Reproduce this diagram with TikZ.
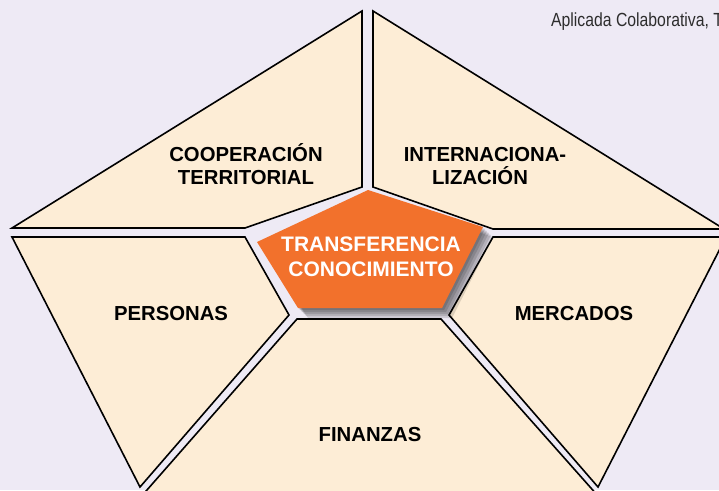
\documentclass[tikz,border=0pt]{standalone}
\usepackage{fontspec}
\setmainfont{Liberation Sans}
\definecolor{bgc}{RGB}{238,234,245}
\definecolor{piecefill}{RGB}{253,237,214}
\definecolor{orangec}{RGB}{242,113,44}
\definecolor{notegray}{RGB}{45,45,45}
\begin{document}
\begin{tikzpicture}[x=1pt,y=-1pt,
  piece/.style={draw=black, line width=1.6pt, fill=piecefill, line join=miter},
  lbl/.style={font=\bfseries\fontsize{20.3}{24}\selectfont, text=black, anchor=base, inner sep=0pt},
  clbl/.style={font=\bfseries\fontsize{21}{25}\selectfont, text=white, anchor=base, inner sep=0pt},
  shadowlayer/.style={fill=black, fill opacity=0.13}
]
\useasboundingbox (0,0) rectangle (719,490);
\fill[bgc] (0,0) rectangle (719,490);
\clip (0,0) rectangle (719,490);

% outer pieces
\draw[piece] (362,11) -- (362,187) -- (245,228) -- (12,228) -- cycle;
\draw[piece] (373,11) -- (724,229) -- (493,229) -- (373,187) -- cycle;
\draw[piece] (12,237) -- (245,237) -- (289,315) -- (140,487) -- cycle;
\draw[piece] (493,237) -- (726,237) -- (598,487) -- (449,315) -- cycle;
\draw[piece] (297,319) -- (441,319) -- (622,523) -- (118,523) -- cycle;

% soft shadow of the central pentagon
\foreach \d in {2,4,6,8,10}{
  \fill[shadowlayer, shift={(\d,\d)}] (368,190) -- (483,227) -- (442,308) -- (298,308) -- (257,242) -- cycle;
}
% central pentagon
\fill[orangec] (368,190) -- (483,227) -- (442,308) -- (298,308) -- (257,242) -- cycle;

% labels
\node[lbl] (coop1) at (246,161) {COOPERACIÓN};
\node[lbl] (coop2) at (246,184) {TERRITORIAL};
\node[lbl] (inter1) at (485,161) {INTERNACIONA-};
\node[lbl] (inter2) at (480,184) {LIZACIÓN};
\node[clbl] (trans1) at (371,251) {TRANSFERENCIA};
\node[clbl] (trans2) at (371,276) {CONOCIMIENTO};
\node[lbl] (pers) at (171,320) {PERSONAS};
\node[lbl] (merc) at (574,320) {MERCADOS};
\node[lbl] (fin) at (370,441) {FINANZAS};

% source note (cut by the frame, as in the reference)
\node[anchor=base west, inner sep=0pt, text=notegray, font=\fontsize{19}{22}\selectfont] (note) at (551,26) {\scalebox{0.83}[1]{Aplicada Colaborativa, T}};
\end{tikzpicture}
\end{document}
